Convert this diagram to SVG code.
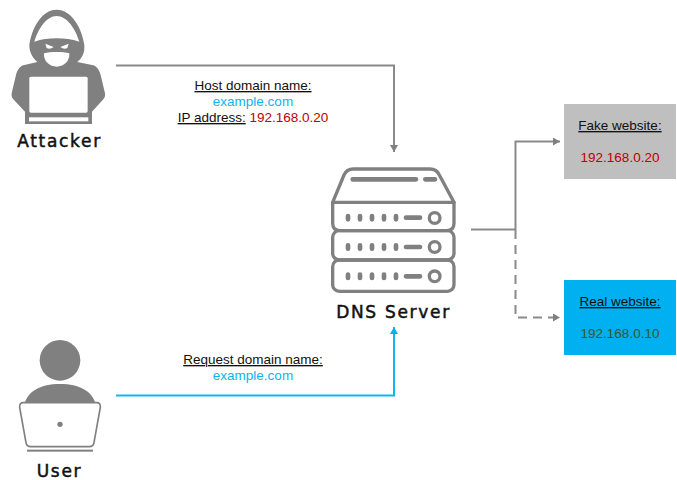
<svg xmlns="http://www.w3.org/2000/svg" width="677" height="480" viewBox="0 0 677 480">
<style>
.t{font-family:"Liberation Sans",Arial,sans-serif;font-size:13.500px;text-anchor:middle;fill:#111}
.u{text-decoration:underline}
.b{fill:#0fb2f0}.r{fill:#c00000}.g{fill:#385723}
.l{font-family:"DejaVu Sans",sans-serif;font-size:17px;letter-spacing:1.700px;text-anchor:middle;fill:#111;stroke:#111;stroke-width:.5px}
.c{fill:none;stroke:#8a8a8a;stroke-width:2}
.s{fill:none;stroke:#808080;stroke-width:10;stroke-linecap:round;stroke-linejoin:round}
.d{fill:none;stroke:#808080;stroke-width:14;stroke-linecap:round}
.k{fill:#808080}
</style>
<defs>
<marker id="ag" markerUnits="userSpaceOnUse" markerWidth="8" markerHeight="8" refX="7" refY="4" orient="auto"><path d="M0 0L7 4L0 8Z" fill="#808080"/></marker>
<marker id="ab" markerUnits="userSpaceOnUse" markerWidth="8" markerHeight="8" refX="7" refY="4" orient="auto"><path d="M0 0L7 4L0 8Z" fill="#00b0f0"/></marker>
</defs>
<g id="connectors">
<path class="c" d="M116 65.500H394V152" marker-end="url(#ag)"/>
<path d="M116 395.500H394V327" fill="none" stroke="#12b5ee" stroke-width="2" marker-end="url(#ab)"/>
<path class="c" d="M471 229.500H515.500V141.500H560" marker-end="url(#ag)"/>
<path class="c" d="M515.500 230V317.500H560" stroke-dasharray="9 6" marker-end="url(#ag)"/>
</g>
<g id="attacker">
<g transform="scale(.3333)">
<path class="k" d="M170 29C125 29 95 85 88 135C88 160 100 175 112 186L70 196C58 200 52 212 48 225L35 280Q33 292 42 300L75 335V372H276V335L308 300Q317 292 315 280L302 225C298 212 292 200 280 196L232 186C245 175 255 160 253 135C246 85 215 29 170 29Z"/>
<path fill="#fff" d="M103 125C115 85 140 48 170 48C200 48 226 85 238 125C215 118 195 115 170 115C145 115 125 118 103 125Z"/>
<path fill="#fff" d="M132 160C150 155 190 155 208 160C210 185 190 200 170 200C150 200 130 185 132 160Z"/>
<path fill="#fff" d="M136 131L161 141Q150 149 140 144ZM206 131L181 141Q192 149 202 144Z"/>
<rect x="88" y="230" width="175" height="108" rx="5" fill="#fff"/>
<rect x="87" y="352" width="178" height="12" fill="#fff"/>
</g>
<text class="l" x="59.500" y="147">Attacker</text>
</g>
<g id="user">
<g transform="translate(0 330) scale(.3333)">
<circle class="k" cx="180" cy="91" r="61"/>
<path class="k" d="M75 217C85 185 120 162 180 162C240 162 275 185 285 217Z"/>
<path d="M70 218H290Q302 218 301 232L282 338Q280 350 268 350H92Q80 350 78 338L59 232Q58 218 70 218Z" fill="#fff" stroke="#808080" stroke-width="5"/>
<circle class="k" cx="180" cy="283" r="8"/>
<rect class="k" x="81" y="359" width="198" height="6"/>
</g>
<text class="l" x="59.500" y="477">User</text>
</g>
<g id="dns-server">
<g transform="translate(320 160) scale(.3333)">
<path class="s" d="M38 127L72 45Q80 27 100 27H330Q350 27 358 45L402 127V190Q402 212 380 212H60Q38 212 38 190Z"/>
<path class="s" d="M38 127H402"/>
<rect class="s" x="38" y="212" width="364" height="88" rx="20"/>
<rect class="s" x="38" y="300" width="364" height="94" rx="20"/>
<path class="d" d="M98 58H288M316 58H345"/>
<path class="d" d="M84 168V178M120 168V178M156 168V178M192 168V178M228 168V178M258 173H300"/><circle cx="344" cy="174" r="16" fill="#fff" stroke="#808080" stroke-width="10"/>
<path class="d" d="M84 256V266M120 256V266M156 256V266M192 256V266M228 256V266M258 261H300"/><circle cx="344" cy="261" r="16" fill="#fff" stroke="#808080" stroke-width="10"/>
<path class="d" d="M84 344V354M120 344V354M156 344V354M192 344V354M228 344V354M258 349H300"/><circle cx="344" cy="349" r="16" fill="#fff" stroke="#808080" stroke-width="10"/>
</g>
<text class="l" x="393.500" y="318">DNS Server</text>
</g>
<g id="fake-website">
<rect x="564" y="104" width="112" height="75" fill="#bfbfbf"/>
<text class="t u" x="620" y="130">Fake website:</text>
<text class="t r" x="620" y="162">192.168.0.20</text>
</g>
<g id="real-website">
<rect x="564" y="280" width="112" height="75" fill="#00b0f0"/>
<text class="t u" x="620" y="306">Real website:</text>
<text class="t g" x="620" y="338">192.168.0.10</text>
</g>
<g id="attacker-label">
<text class="t u" x="253" y="90">Host domain name:</text>
<text class="t b" x="253" y="106">example.com</text>
<text class="t" x="253" y="122"><tspan class="u">IP address:</tspan> <tspan class="r">192.168.0.20</tspan></text>
</g>
<g id="user-label">
<text class="t u" x="253" y="364">Request domain name:</text>
<text class="t b" x="253" y="380">example.com</text>
</g>
</svg>
